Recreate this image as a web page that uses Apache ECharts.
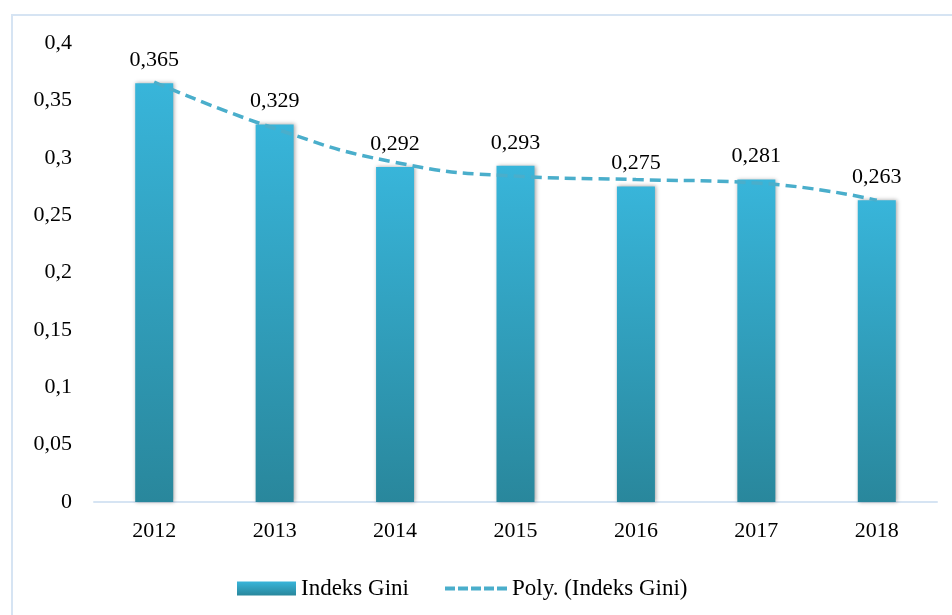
<!DOCTYPE html>
<html>
<head>
<meta charset="utf-8">
<script src="https://cdn.jsdelivr.net/npm/echarts@6/dist/echarts.min.js"></script>
<style>
  html, body { margin: 0; padding: 0; background: #fff; }
  #chart { width: 952px; height: 615px; }
</style>
</head>
<body>
<div id="chart"></div>
<script>
// data
let years = ["2012", "2013", "2014", "2015", "2016", "2017", "2018"];
let gini_values = [0.365, 0.329, 0.292, 0.293, 0.275, 0.281, 0.263];
// polynomial trend line
let trend_values = [0.366, 0.3255, 0.296, 0.284, 0.281, 0.278, 0.263];

let font_name = "'Palatino Linotype', 'Book Antiqua', 'Liberation Serif', serif";
let text_size = 22;
let trend_color = "#4aaecb";

function comma_num(v) {
    return String(v).replace(".", ",");
}

let chart = echarts.init(document.getElementById("chart"));

let bar_fill = new echarts.graphic.LinearGradient(0, 0, 0, 1, [
    { offset: 0, color: "#38b5da" },
    { offset: 1, color: "#29879c" }
]);

// dashed icon for the trend legend
let dash_icon = "path://M0,0h10v4h-10z M13,0h10v4h-10z M26,0h10v4h-10z M39,0h10v4h-10z M52,0h10v4h-10z";

let legend_text = { fontFamily: font_name, fontSize: 23, color: "#000" };

chart.setOption({
    animation: false,
    graphic: [{
        type: "rect",
        shape: { x: 12, y: 15, width: 960, height: 620 },
        style: { fill: "none", stroke: "#d6e4f3", lineWidth: 2 },
        silent: true
    }],
    grid: { left: 94, right: 15, top: 43, bottom: 113 },
    legend: [
        {
            left: 232,
            top: 572,
            itemWidth: 59,
            itemHeight: 14,
            itemGap: 5,
            textStyle: legend_text,
            data: [{ name: "Indeks Gini", icon: "rect" }]
        },
        {
            left: 440,
            top: 572,
            itemWidth: 62,
            itemHeight: 4,
            textStyle: legend_text,
            data: [{ name: "Poly. (Indeks Gini)", icon: dash_icon, itemStyle: { color: trend_color } }]
        }
    ],
    xAxis: {
        type: "category",
        data: years,
        axisLine: { lineStyle: { color: "#d6e4f3", width: 2 } },
        axisTick: { show: false },
        axisLabel: { fontFamily: font_name, fontSize: text_size, color: "#000", margin: 18 }
    },
    yAxis: {
        type: "value",
        min: 0,
        max: 0.4,
        interval: 0.05,
        splitLine: { show: false },
        axisLine: { show: false },
        axisTick: { show: false },
        axisLabel: {
            fontFamily: font_name, fontSize: text_size, color: "#000", margin: 22,
            formatter: function (v) { return comma_num(+v.toFixed(2)); }
        }
    },
    series: [
        {
            name: "Indeks Gini",
            type: "bar",
            data: gini_values,
            barWidth: 38,
            itemStyle: {
                color: bar_fill,
                shadowColor: "rgba(0,0,0,0.35)",
                shadowBlur: 4,
                shadowOffsetX: 1
            },
            label: {
                show: true,
                position: "top",
                distance: 12,
                fontFamily: font_name,
                fontSize: text_size,
                color: "#000",
                formatter: function (p) { return comma_num(p.value); }
            }
        },
        {
            name: "Poly. (Indeks Gini)",
            type: "line",
            data: trend_values,
            smooth: 0.5,
            symbol: "none",
            z: 5,
            lineStyle: { color: trend_color, width: 3.5, type: [11, 6] },
            itemStyle: { color: trend_color }
        }
    ]
});
</script>
</body>
</html>
